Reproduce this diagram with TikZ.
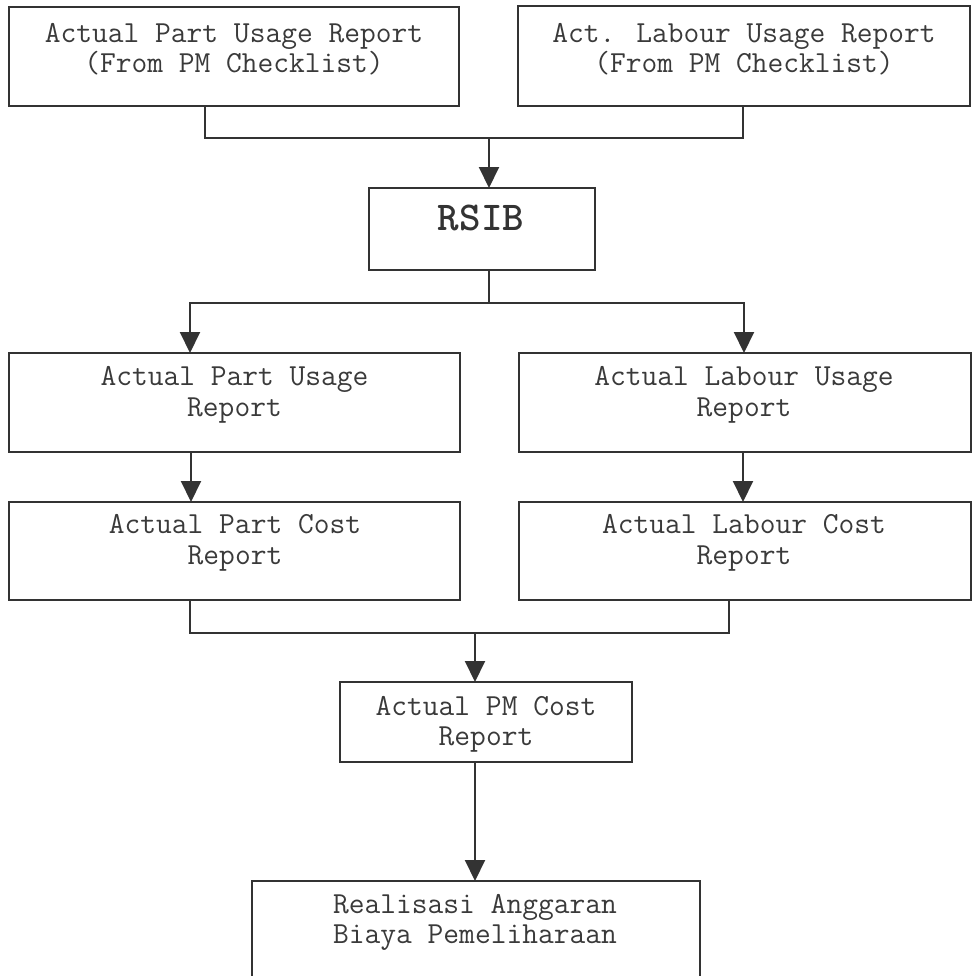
\documentclass[tikz,border=0pt]{standalone}
\usetikzlibrary{arrows.meta,fit}
\definecolor{ink}{HTML}{333333}
\definecolor{txt}{HTML}{3a3a3a}
\begin{document}
\begin{tikzpicture}[x=0.5pt,y=-0.5pt,
  box/.style={draw=ink, line width=1pt, inner sep=0pt, outer sep=0pt},
  lbl/.style={anchor=base, inner sep=0pt, font=\fontsize{15.3}{18}\selectfont\ttfamily, text=txt},
  head/.style={anchor=base, inner sep=0pt, font=\fontsize{20.5}{24}\selectfont\ttfamily\bfseries, text=ink},
  link/.style={draw=ink, line width=1pt},
  flow/.style={link, -{Triangle[length=10.5pt,width=10pt]}}]
\useasboundingbox (0,0) rectangle (976,976);
\clip (0,0) rectangle (976,976);

% source reports
\node[box, fit={(9,7)(459,106)}] (pu0) {};
\node[lbl] (pu0a) at (234,42) {Actual Part Usage Report};
\node[lbl] (pu0b) at (234,72) {(From PM Checklist)};
\node[box, fit={(518,6)(970,106)}] (lu0) {};
\node[lbl] (lu0a) at (744,42) {Act. Labour Usage Report};
\node[lbl] (lu0b) at (744,72) {(From PM Checklist)};

% RSIB
\node[box, fit={(369,188)(595,270)}] (rsib) {};
\node[head] (rsibt) at (481,230) {RSIB};

% usage reports
\node[box, fit={(9,353)(460,452)}] (pu) {};
\node[lbl] (pua) at (234.5,385) {Actual Part Usage};
\node[lbl] (pub) at (234.5,416) {Report};
\node[box, fit={(519,353)(971,452)}] (lu) {};
\node[lbl] (lua) at (744,385) {Actual Labour Usage};
\node[lbl] (lub) at (744,416) {Report};

% cost reports
\node[box, fit={(9,502)(460,600)}] (pc) {};
\node[lbl] (pca) at (235,533) {Actual Part Cost};
\node[lbl] (pcb) at (235,564) {Report};
\node[box, fit={(519,502)(971,600)}] (lc) {};
\node[lbl] (lca) at (744,533) {Actual Labour Cost};
\node[lbl] (lcb) at (744,564) {Report};

% PM cost and budget realisation
\node[box, fit={(340,682)(632,762)}] (pm) {};
\node[lbl] (pma) at (486,715) {Actual PM Cost};
\node[lbl] (pmb) at (486,745) {Report};
\node[box, fit={(252,881)(700,992)}] (rab) {};
\node[lbl] (raba) at (475,913) {Realisasi Anggaran};
\node[lbl] (rabb) at (475,943) {Biaya Pemeliharaan};

% junction points
\coordinate (j0) at (489,138);
\coordinate (j0l) at (205,138);
\coordinate (j0r) at (743,138);
\coordinate (j1) at (489,303);
\coordinate (j1l) at (190,303);
\coordinate (j1r) at (744,303);
\coordinate (colL) at (191,0);
\coordinate (colR) at (743,0);
\coordinate (j2) at (475,633);
\coordinate (j2l) at (190,633);
\coordinate (j2r) at (729,633);

% connectors
\draw[link] (j0l |- pu0.south) -- (j0l) -- (j0r) -- (j0r |- lu0.south);
\draw[flow] (j0) -- (j0 |- rsib.north);
\draw[link] (j1 |- rsib.south) -- (j1);
\draw[flow] (j1) -| (j1l |- pu.north);
\draw[flow] (j1) -| (j1r |- lu.north);
\draw[flow] (colL |- pu.south) -- (colL |- pc.north);
\draw[flow] (colR |- lu.south) -- (colR |- lc.north);
\draw[link] (j2l |- pc.south) -- (j2l) -- (j2r) -- (j2r |- lc.south);
\draw[flow] (j2) -- (j2 |- pm.north);
\draw[flow] (j2 |- pm.south) -- (j2 |- rab.north);
\end{tikzpicture}
\end{document}
